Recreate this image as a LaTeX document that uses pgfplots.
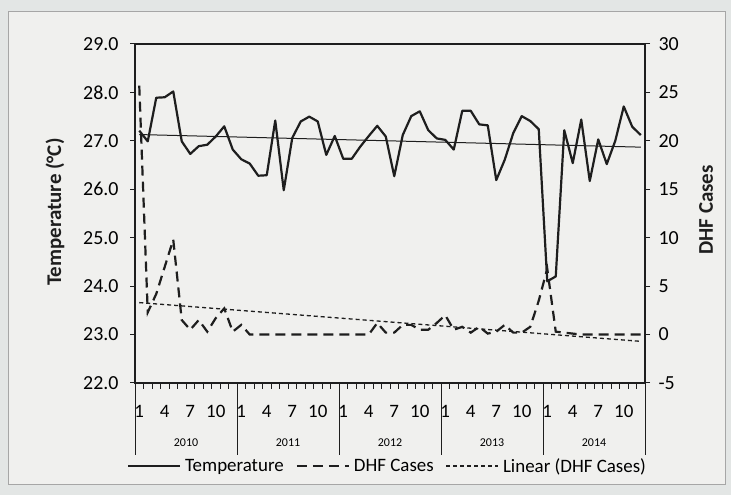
\documentclass[border=0pt]{standalone}
\usepackage{pgfplots}
\usepackage{pgfplotstable}
\pgfplotsset{compat=1.18}
\usepackage{fontspec}
\setmainfont{Carlito}

\definecolor{bgout}{HTML}{E3E6E5}
\definecolor{bgin}{HTML}{F0F0EE}
\definecolor{ink}{HTML}{1E1E1E}
\newcommand\fs[1]{\fontsize{#1}{#1}\selectfont}

% month index (0 = Jan 2010), temperature, DHF cases
\pgfplotstableread{
m  T      D
0  27.21  25.7
1  26.99  2.3
2  27.89  4.2
3  27.90  7.0
4  28.02  9.8
5  26.99  1.5
6  26.73  0.5
7  26.89  1.5
8  26.92  0.3
9  27.09  1.7
10 27.30  2.7
11 26.82  0.3
12 26.62  1.0
13 26.53  0
14 26.28  0
15 26.29  0
16 27.42  0
17 25.98  0
18 27.06  0
19 27.40  0
20 27.50  0
21 27.40  0
22 26.71  0
23 27.10  0
24 26.63  0
25 26.63  0
26 26.88  0
27 27.10  0
28 27.31  1.2
29 27.09  0.2
30 26.27  0.2
31 27.12  1.0
32 27.51  1.0
33 27.61  0.5
34 27.22  0.5
35 27.05  1.2
36 27.02  2.0
37 26.82  0.5
38 27.62  0.8
39 27.62  0.2
40 27.34  0.8
41 27.32  0.1
42 26.19  0.3
43 26.61  1.0
44 27.16  0.2
45 27.51  0.2
46 27.41  0.8
47 27.24  3.5
48 24.10  6.8
49 24.20  0.3
50 27.22  0.2
51 26.54  0.1
52 27.44  0
53 26.17  0
54 27.03  0
55 26.52  0
56 27.00  0
57 27.71  0
58 27.29  0
59 27.12  0
}\datatable

\pgfplotsset{
  common/.style={
    at={(135bp,112bp)}, anchor=south west,
    scale only axis, width=510bp, height=339bp,
    xmin=-0.5, xmax=59.5,
    axis line style={ink, line width=1.3bp},
    tick style={ink, line width=1bp},
    tick align=outside,
    major tick length=5bp,
    minor tick length=6bp,
    clip=false,
  },
  temp/.style={ink, line width=2.2bp, line join=round},
  dhf/.style={ink, line width=2.2bp, dash pattern=on 10bp off 6bp},
  lin/.style={ink, line width=1.3bp, dash pattern=on 4bp off 3bp},
}

\begin{document}
\begin{tikzpicture}[x=1bp,y=1bp]
\fill[bgout] (0,0) rectangle (731,495);
\filldraw[fill=bgin, draw=gray!70, line width=1bp] (8,10) rectangle (725,483);

\begin{axis}[common,
  ymin=22, ymax=29,
  xtick pos=bottom, ytick pos=left,
  xtick={0,3,...,57},
  xticklabels={1,4,7,10,1,4,7,10,1,4,7,10,1,4,7,10,1,4,7,10},
  minor xtick={-0.5,0.5,...,59.5},
  major x tick style={draw=none},
  xticklabel style={font=\fs{19}, anchor=base, yshift=-30bp},
  ytick={22,23,...,29},
  yticklabels={22.0,23.0,24.0,25.0,26.0,27.0,28.0,29.0},
  yticklabel style={font=\fs{20}, xshift=-8bp},
]
\addplot[temp] table[x=m, y=T] {\datatable};
\addplot[ink, line width=1bp] coordinates {(0,27.13) (59,26.87)};
\pgfplotsinvokeforeach{-0.5,11.5,23.5,35.5,47.5,59.5}{
  \draw[ink, line width=1bp] (axis cs:#1,22) -- ++(0pt,-72bp);
}
\node[font=\fs{12}] at ([yshift=-60bp]axis cs:5.5,22) {2010};
\node[font=\fs{12}] at ([yshift=-60bp]axis cs:17.5,22) {2011};
\node[font=\fs{12}] at ([yshift=-60bp]axis cs:29.5,22) {2012};
\node[font=\fs{12}] at ([yshift=-60bp]axis cs:41.5,22) {2013};
\node[font=\fs{12}] at ([yshift=-60bp]axis cs:53.5,22) {2014};
\end{axis}

\begin{axis}[common,
  ymin=-5, ymax=30,
  axis x line=none, axis y line*=right,
  ytick={-5,0,...,30},
  yticklabels={-5,0,5,10,15,20,25,30},
  yticklabel style={font=\fs{20}, xshift=5bp},
  legend style={at={(0.495,-0.245)}, anchor=center, draw=none, fill=none,
    font=\fs{19}, legend columns=3,
    /tikz/every odd column/.append style={column sep=2bp},
    /tikz/every even column/.append style={column sep=10bp}},
  legend image code/.code={\draw[#1] (0bp,0bp) -- (52bp,0bp);},
]
\addlegendimage{temp}
\addlegendentry{Temperature}
\addplot[dhf] table[x=m, y=D] {\datatable};
\addlegendentry{DHF Cases}
\addplot[lin] coordinates {(0,3.3) (59,-0.7)};
\addlegendentry{Linear (DHF Cases)}
\end{axis}

\node[rotate=90, font=\fs{21}\bfseries, ink] at (55,283) {Temperature (°C)};
\node[rotate=90, font=\fs{21}\bfseries, ink] at (706,285) {DHF Cases};
\pgfresetboundingbox
\useasboundingbox (0,0) rectangle (731,495);
\end{tikzpicture}
\end{document}
